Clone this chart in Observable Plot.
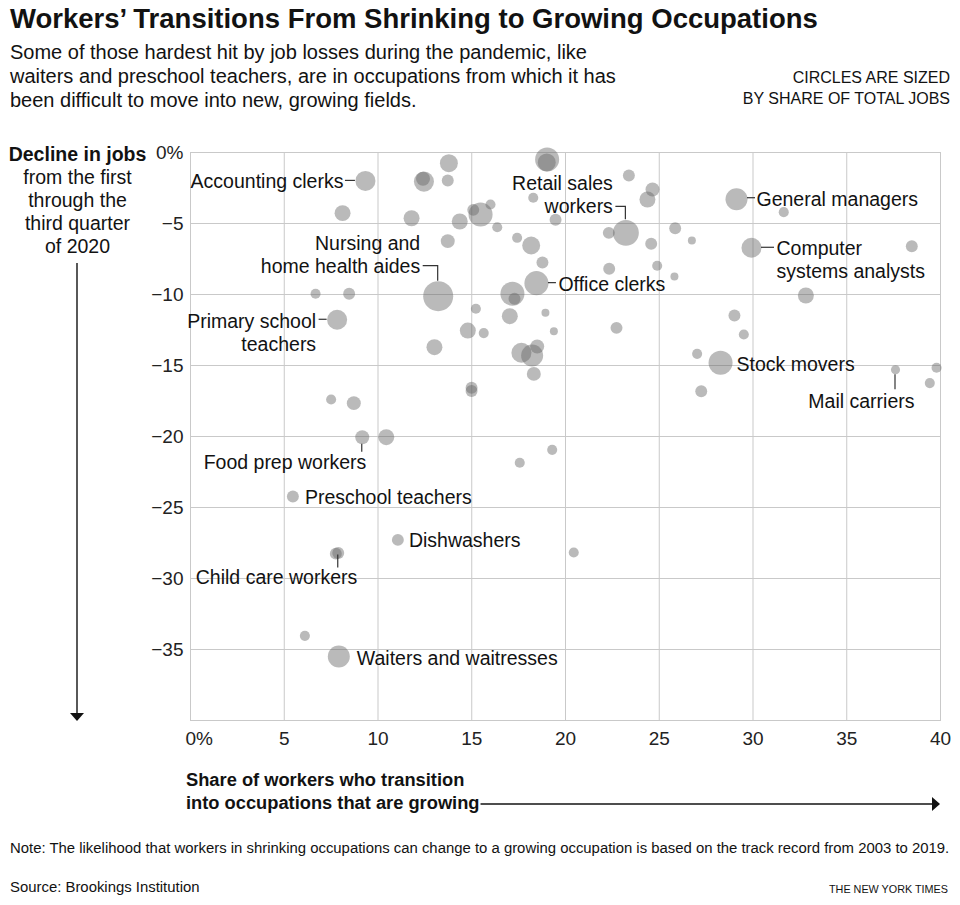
<!DOCTYPE html>
<html>
<head>
<meta charset="utf-8">
<script src="https://cdn.jsdelivr.net/npm/d3@7"></script>
<script src="https://cdn.jsdelivr.net/npm/@observablehq/plot@0.6"></script>
<style>
  body { margin:0; width:960px; height:905px; position:relative; background:#fff; font-family:"Liberation Sans", Arial, sans-serif; color:#121212; overflow:hidden; }
  .abs { position:absolute; }
</style>
</head>
<body>
<div id="title" class="abs" style="left:10px;top:3px;font-size:27.5px;font-weight:bold;white-space:nowrap;">Workers’ Transitions From Shrinking to Growing Occupations</div>
<div class="abs" style="left:10px;top:39.5px;font-size:20px;line-height:24px;white-space:nowrap;">Some of those hardest hit by job losses during the pandemic, like<br>waiters and preschool teachers, are in occupations from which it has<br>been difficult to move into new, growing fields.</div>
<div class="abs" style="right:10px;top:67px;font-size:16px;line-height:21px;text-align:right;white-space:nowrap;">CIRCLES ARE SIZED<br>BY SHARE OF TOTAL JOBS</div>
<div class="abs" style="left:0;width:155px;top:143px;font-size:19.5px;line-height:23px;text-align:center;"><b>Decline in jobs</b><br>from the first<br>through the<br>third quarter<br>of 2020</div>
<div id="chart" class="abs" style="left:0;top:130px;"></div>
<div class="abs" style="left:186px;top:768px;font-size:18.3px;line-height:23px;font-weight:bold;white-space:nowrap;">Share of workers who transition<br><span id="xlab2">into occupations that are growing</span></div>
<div class="abs" style="left:10px;top:840px;font-size:14.9px;white-space:nowrap;">Note: The likelihood that workers in shrinking occupations can change to a growing occupation is based on the track record from 2003 to 2019.</div>
<div class="abs" style="left:10px;top:879px;font-size:14.9px;white-space:nowrap;">Source: Brookings Institution</div>
<div class="abs" style="right:12px;top:883px;font-size:10.8px;white-space:nowrap;">THE NEW YORK TIMES</div>
<svg id="overlay" class="abs" style="left:0;top:0;pointer-events:none;" width="960" height="905"></svg>
<script>
// Share of workers who transition into growing occupations (%)
const transitionShare = [9.33, 12.45, 12.4, 13.78, 13.72, 8.11, 11.79, 14.36, 15.08, 15.47,
  16.0, 16.36, 13.72, 17.42, 18.17, 18.28, 19.47, 19.02, 19.0, 23.38,
  24.64, 24.37, 23.22, 22.31, 25.85, 26.74, 24.57, 18.77, 22.33, 24.89,
  25.81, 18.45, 17.17, 17.28, 13.21, 6.67, 8.46, 7.82, 15.22, 17.03,
  18.93, 22.72, 14.79, 15.64, 19.38, 13.01, 17.65, 18.22, 18.49, 18.31,
  14.99, 14.99, 19.29, 17.56, 27.02, 27.24, 29.12, 31.64, 29.92, 38.47,
  32.82, 29.01, 29.51, 28.27, 37.6, 39.79, 39.43, 7.5, 8.71, 9.16,
  10.44, 5.46, 11.06, 7.88, 7.75, 20.44, 6.1, 7.91];
// Decline in jobs, Q1 to Q3 2020 (%)
const jobDecline = [-2.0, -2.05, -1.85, -0.75, -1.97, -4.27, -4.63, -4.86, -4.04, -4.37,
  -3.66, -5.26, -6.24, -6.01, -6.55, -3.19, -4.74, -0.5, -0.7, -1.62,
  -2.61, -3.31, -5.66, -5.66, -5.33, -6.2, -6.43, -7.75, -8.19, -7.98,
  -8.73, -9.2, -9.95, -10.3, -10.12, -9.95, -9.95, -11.78, -11.0, -11.53,
  -11.29, -12.35, -12.54, -12.72, -12.58, -13.71, -14.1, -14.3, -13.66, -15.59,
  -16.57, -16.8, -20.94, -21.85, -14.18, -16.81, -3.29, -4.2, -6.71, -6.6,
  -10.07, -11.48, -12.82, -14.81, -15.3, -15.16, -16.24, -17.39, -17.65, -20.05,
  -20.05, -24.23, -27.28, -28.2, -28.25, -28.17, -34.04, -35.49];
// Share of total jobs (%)
const jobShare = [1.07, 1.07, 0.52, 0.86, 0.38, 0.68, 0.68, 0.68, 0.38, 1.54,
  0.27, 0.27, 0.52, 0.27, 0.86, 0.27, 0.38, 1.54, 0.86, 0.38,
  0.52, 0.68, 1.8, 0.38, 0.38, 0.17, 0.38, 0.38, 0.38, 0.27,
  0.17, 1.54, 1.54, 0.38, 2.4, 0.27, 0.38, 1.07, 0.27, 0.68,
  0.17, 0.38, 0.68, 0.27, 0.17, 0.68, 1.07, 1.29, 0.52, 0.52,
  0.38, 0.38, 0.27, 0.27, 0.27, 0.38, 1.29, 0.27, 1.07, 0.38,
  0.68, 0.38, 0.27, 1.54, 0.22, 0.27, 0.27, 0.27, 0.52, 0.52,
  0.68, 0.38, 0.38, 0.38, 0.38, 0.27, 0.27, 1.29];
// Labeled occupations and their index in the arrays above
const labelNames = ["Accounting clerks", "Nursing and\nhome health aides", "Primary school\nteachers",
  "Retail sales\nworkers", "Office clerks", "General managers", "Computer\nsystems analysts",
  "Stock movers", "Mail carriers", "Food prep workers", "Preschool teachers", "Dishwashers",
  "Child care workers", "Waiters and waitresses"];
const labelIndex = [0, 34, 37, 22, 31, 56, 58, 63, 64, 69, 71, 72, 73, 77];
const xTicks = [0, 5, 10, 15, 20, 25, 30, 35, 40];
const yTicks = [0, -5, -10, -15, -20, -25, -30, -35];

// label placement (pixel offsets from the circle centre) and leader lines
const labelStyle = [
  {anchor:"end", dx:-22, dy:0, leader:[[-20,0],[-10,0]]},
  {anchor:"end", dx:-18, dy:-42.5, leader:[[-15,-30],[0,-30],[0,-15]]},
  {anchor:"end", dx:-21, dy:12, leader:[[-18,0],[-10,0]]},
  {anchor:"end", dx:-13, dy:-38.5, leader:[[-10,-26],[0,-26],[0,-13]]},
  {anchor:"start", dx:22, dy:0, leader:[[12,0],[20,0]]},
  {anchor:"start", dx:20, dy:-1, leader:[[11,-1],[19,-1]]},
  {anchor:"start", dx:25, dy:11.5, leader:[[10,0],[23,0]]},
  {anchor:"start", dx:16, dy:1, leader:null},
  {anchor:"end", dx:19, dy:31, leader:[[0,5],[0,20]]},
  {anchor:"end", dx:4, dy:24, leader:[[0,7],[0,15]]},
  {anchor:"start", dx:12, dy:0, leader:null},
  {anchor:"start", dx:11, dy:0, leader:null},
  {anchor:"end", dx:19, dy:24, leader:[[0,2],[0,15]]},
  {anchor:"start", dx:18, dy:1, leader:null}
];

const idx = d3.range(transitionShare.length);
const fmtY = d => d === 0 ? "0%" : "\u2212" + Math.abs(d);

const labelMarks = labelNames.map((name, k) => Plot.text([labelIndex[k]], {
  x: i => transitionShare[i], y: i => jobDecline[i], text: () => name,
  textAnchor: labelStyle[k].anchor, lineAnchor: "middle",
  dx: labelStyle[k].dx, dy: labelStyle[k].dy,
  fontSize: 19.5, lineHeight: 1.18, fill: "#121212"
}));

const chart = Plot.plot({
  width: 960, height: 630,
  marginTop: 22, marginBottom: 40, marginLeft: 190, marginRight: 20,
  style: {fontFamily: "Liberation Sans, Arial, sans-serif", fontSize: "19px", color: "#222", background: "transparent"},
  x: {domain: [0, 40]},
  y: {domain: [-40, 0]},
  r: {type: "sqrt", domain: [0, 2.4], range: [0, 15]},
  marks: [
    Plot.gridX(xTicks.filter(t => t > 0 && t < 40), {stroke: "#c9c9c9", strokeOpacity: 1}),
    Plot.gridY(yTicks.filter(t => t < 0), {stroke: "#c9c9c9", strokeOpacity: 1}),
    Plot.frame({stroke: "#c9c9c9"}),
    Plot.axisX(xTicks.filter(t => t > 0), {tickSize: 0, tickPadding: 11, fontSize: 19, label: null, fill: "#222"}),
    Plot.axisX([0], {tickSize: 0, tickPadding: 11, fontSize: 19, label: null, textAnchor: "start", dx: -5, tickFormat: () => "0%", fill: "#222"}),
    Plot.axisY(yTicks, {tickSize: 0, tickPadding: 7, fontSize: 19, label: null, tickFormat: fmtY, fill: "#222"}),
    Plot.dot(idx, {x: i => transitionShare[i], y: i => jobDecline[i], r: i => jobShare[i],
      fill: "#666", fillOpacity: 0.45, stroke: "none"}),
    ...labelMarks
  ]
});
document.getElementById("chart").appendChild(chart);

// leader lines, positioned through the chart's own scales
const sx = chart.scale("x"), sy = chart.scale("y");
const svg = d3.select(chart);
labelStyle.forEach((s, k) => {
  if (!s.leader) return;
  const i = labelIndex[k];
  const cx = sx.apply(transitionShare[i]), cy = sy.apply(jobDecline[i]);
  svg.append("path")
    .attr("d", d3.line()(s.leader.map(([a, b]) => [cx + a, cy + b])))
    .attr("fill", "none").attr("stroke", "#333").attr("stroke-width", 1.2);
});

// axis arrows
const ov = d3.select("#overlay");
const yTop = 263, yBot = sy.apply(-40) + 130 + 1;
ov.append("line").attr("x1", 77).attr("x2", 77).attr("y1", yTop).attr("y2", yBot - 6)
  .attr("stroke", "#121212").attr("stroke-width", 1.4);
ov.append("path").attr("d", `M70,${yBot - 8}L84,${yBot - 8}L77,${yBot}Z`).attr("fill", "#121212");

const r2 = document.getElementById("xlab2").getBoundingClientRect();
const xEnd = sx.apply(40);
const ay = r2.top + r2.height / 2 + 1.5;
ov.append("line").attr("x1", r2.right + 1).attr("x2", xEnd - 6).attr("y1", ay).attr("y2", ay)
  .attr("stroke", "#121212").attr("stroke-width", 1.4);
ov.append("path").attr("d", `M${xEnd - 8},${ay - 7}L${xEnd - 8},${ay + 7}L${xEnd},${ay}Z`).attr("fill", "#121212");
</script>
</body>
</html>
